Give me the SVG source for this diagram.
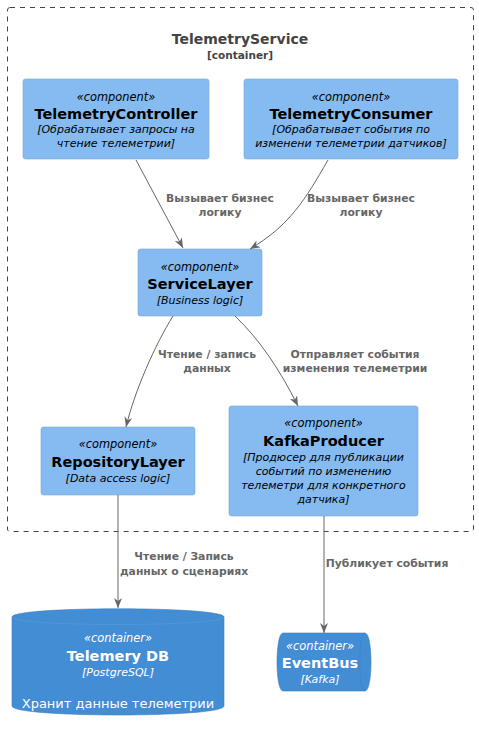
<svg xmlns="http://www.w3.org/2000/svg" width="479" height="732" viewBox="0 0 479 732">
<style>
text{font-family:"DejaVu Sans","Liberation Sans",sans-serif;text-anchor:middle}
.comp rect{fill:#85BBF0;stroke:#78A8D8;stroke-width:0.6}
.st{font-style:italic;font-size:11.4px}
.nm{font-weight:bold;font-size:14.5px}
.ds{font-style:italic;font-size:11px}
.k{fill:#000}
.w{fill:#fff}
.cont path{fill:#438DD5;stroke:#3C7FC0;stroke-width:0.6}
.rim{fill:none!important}
.edge{fill:none;stroke:#666;stroke-width:1}
.lbl{font-weight:bold;font-size:10.8px;fill:#666}
</style>
<defs>
<marker id="ah" viewBox="0 0 10 8" markerWidth="10" markerHeight="8" refX="10" refY="4" orient="auto" markerUnits="userSpaceOnUse">
<path d="M0,0 L10,4 L0,8 L3,4 Z" fill="#666"/>
</marker>
</defs>
<g id="boundary">
<rect x="7.5" y="7.5" width="466" height="524" rx="2.5" fill="none" stroke="#444" stroke-width="1" stroke-dasharray="5,5"/>
<text x="240" y="44" style="font-weight:bold;font-size:14px;fill:#444">TelemetryService</text>
<text x="240" y="59" style="font-weight:bold;font-size:10.5px;fill:#444">[container]</text>
</g>
<g id="TelemetryController" class="comp">
<rect x="23" y="79" width="186" height="80" rx="2.5"/>
<text class="st k" x="116" y="101">«component»</text>
<text class="nm k" x="116" y="118.5">TelemetryController</text>
<text class="ds k" x="116" y="133">[Обрабатывает запросы на</text>
<text class="ds k" x="116" y="147">чтение телеметрии]</text>
</g>
<g id="TelemetryConsumer" class="comp">
<rect x="244" y="79" width="214" height="80" rx="2.5"/>
<text class="st k" x="351" y="101">«component»</text>
<text class="nm k" x="351" y="118.5">TelemetryConsumer</text>
<text class="ds k" x="351" y="133">[Обрабатывает события по</text>
<text class="ds k" x="351" y="147">изменени телеметрии датчиков]</text>
</g>
<g id="ServiceLayer" class="comp">
<rect x="138" y="249" width="124" height="67" rx="2.5"/>
<text class="st k" x="200" y="270.5">«component»</text>
<text class="nm k" x="200" y="288.5">ServiceLayer</text>
<text class="ds k" x="200" y="304">[Business logic]</text>
</g>
<g id="RepositoryLayer" class="comp">
<rect x="41" y="427" width="154" height="68" rx="2.5"/>
<text class="st k" x="118" y="448">«component»</text>
<text class="nm k" x="118" y="466.5">RepositoryLayer</text>
<text class="ds k" x="118" y="482">[Data access logic]</text>
</g>
<g id="KafkaProducer" class="comp">
<rect x="229" y="406" width="189" height="110" rx="2.5"/>
<text class="st k" x="323.5" y="427">«component»</text>
<text class="nm k" x="323.5" y="445.5">KafkaProducer</text>
<text class="ds k" x="323.5" y="461">[Продюсер для публикации</text>
<text class="ds k" x="323.5" y="475">событий по изменению</text>
<text class="ds k" x="323.5" y="489">телеметри для конкретного</text>
<text class="ds k" x="323.5" y="503">датчика]</text>
</g>
<g id="TelemeryDB" class="cont">
<path d="M12,617 C12,606 224,606 224,617 L224,706 C224,718 12,718 12,706 Z"/>
<path class="rim" d="M12,617 C12,627 224,627 224,617" style="stroke:#5A9BDB"/>
<text class="st w" x="118" y="641.5">«container»</text>
<text class="nm w" x="118" y="660.5">Telemery DB</text>
<text class="ds w" x="118" y="676">[PostgreSQL]</text>
<text class="w" x="118" y="708" style="font-size:13px">Хранит данные телеметрии</text>
</g>
<g id="EventBus" class="cont">
<path d="M283,633 L365,633 C373,633 373,691 365,691 L283,691 C275,691 275,633 283,633 Z"/>
<path class="rim" d="M365,633 C358,633 358,691 365,691" style="stroke:#3C7FC0"/>
<text class="st w" x="320" y="649.5">«container»</text>
<text class="nm w" x="320" y="668">EventBus</text>
<text class="ds w" x="320" y="683">[Kafka]</text>
</g>
<g id="connectors">
<path class="edge" d="M136,160 L183,248" marker-end="url(#ah)"/>
<path class="edge" d="M328,160 C305,200 290,225 250,249" marker-end="url(#ah)"/>
<path class="edge" d="M173,316 C155,345 135,390 126,427" marker-end="url(#ah)"/>
<path class="edge" d="M235,316 C260,340 280,370 298,406" marker-end="url(#ah)"/>
<path class="edge" d="M118,495 L118,608" marker-end="url(#ah)"/>
<path class="edge" d="M324,516 L324,633" marker-end="url(#ah)"/>
<text class="lbl" x="220" y="202">Вызывает бизнес</text>
<text class="lbl" x="220" y="216">логику</text>
<text class="lbl" x="361" y="202">Вызывает бизнес</text>
<text class="lbl" x="361" y="216">логику</text>
<text class="lbl" x="207" y="358">Чтение / запись</text>
<text class="lbl" x="207" y="372">данных</text>
<text class="lbl" x="355" y="358">Отправляет события</text>
<text class="lbl" x="355" y="372">изменения телеметрии</text>
<text class="lbl" x="184" y="560">Чтение / Запись</text>
<text class="lbl" x="184" y="575">данных о сценариях</text>
<text class="lbl" x="387" y="567">Публикует события</text>
</g>
</svg>
